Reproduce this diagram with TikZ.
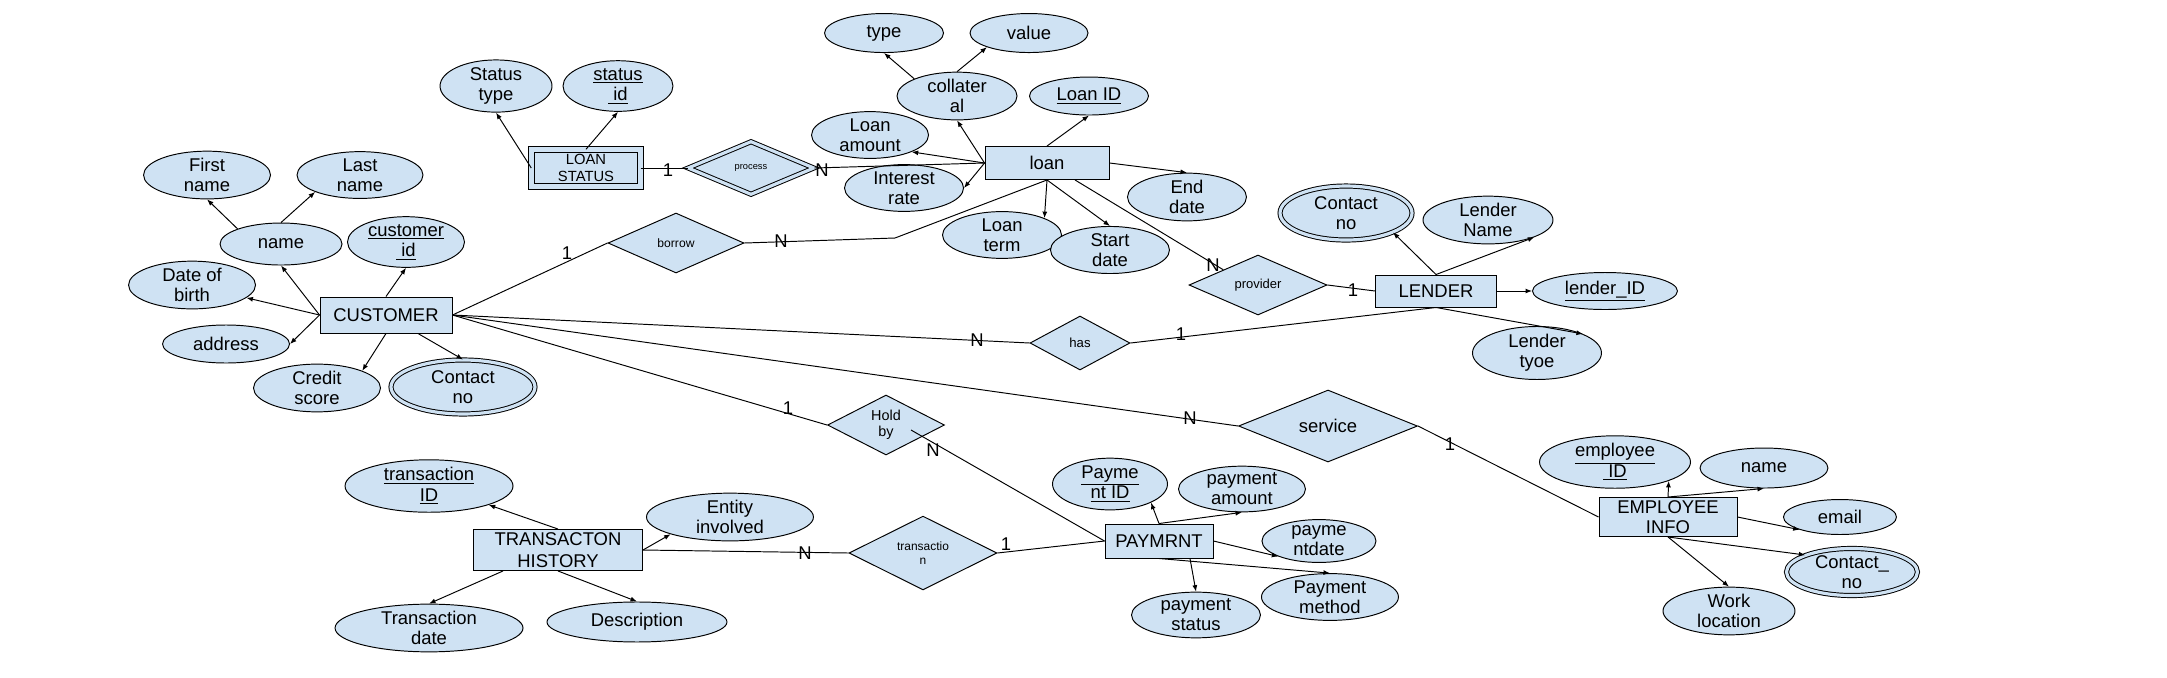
\documentclass[tikz,border=0pt]{standalone}
\usepackage{fontspec}
\setmainfont{Liberation Sans}
\usepackage{tikz}
\usetikzlibrary{positioning,shapes.geometric,arrows.meta}
\definecolor{erfill}{HTML}{CFE2F3}

\begin{document}
\begin{tikzpicture}[
    x=0.02cm, y=-0.02cm, on grid, line width=0.55pt,
    >={Latex[length=1.3mm,width=1mm]},
    entity/.style={rectangle, draw, fill=erfill, inner sep=0pt, align=center, font=\fontsize{10.5}{11.5}\selectfont},
    weakentity/.style={entity, double=erfill, double distance=3pt},
    attr/.style={ellipse, draw, fill=erfill, inner sep=0pt, align=center, font=\fontsize{10.5}{11.5}\selectfont},
    multiattr/.style={attr, double=erfill, double distance=1.8pt},
    rel/.style={diamond, draw, fill=erfill, inner sep=0pt, align=center, font=\fontsize{6.9}{7.9}\selectfont},
    weakrel/.style={rel, double=erfill, double distance=1.8pt},
    card/.style={inner sep=0pt, font=\fontsize{10.5}{11.5}\selectfont}
]
\useasboundingbox (0,0) rectangle (2167,677);

% entities
\node[entity, minimum width=2.64cm, minimum height=0.72cm](customer) at (386,315){CUSTOMER};
\node[weakentity, minimum width=2.17cm, minimum height=0.73cm, font=\fontsize{8.4}{9.8}\selectfont](loanstatus) at (586,168){LOAN\\STATUS};
\node[entity, minimum width=2.48cm, minimum height=0.66cm](loan) at (1047,163){loan};
\node[entity, minimum width=2.42cm, minimum height=0.64cm](lender) at (1436,291){LENDER};
\node[entity, minimum width=3.38cm, minimum height=0.82cm, font=\fontsize{10.5}{12.3}\selectfont](transhist) at (558,550){TRANSACTON\\HISTORY};
\node[entity, minimum width=2.16cm, minimum height=0.68cm](paymrnt) at (1159,541){PAYMRNT};
\node[entity, minimum width=2.76cm, minimum height=0.78cm](empinfo) at (1668,517){EMPLOYEE\\INFO};

% relationships
\node[weakrel, minimum width=2.52cm, minimum height=1.06cm, font=\fontsize{5.3}{6.3}\selectfont](process) at (751,168){process};
\node[rel, minimum width=2.72cm, minimum height=1.20cm](borrow) at (676,243){borrow};
\node[rel, minimum width=2.76cm, minimum height=1.20cm, font=\fontsize{7.4}{8.4}\selectfont](provider) at (1258,285){provider};
\node[rel, minimum width=2.00cm, minimum height=1.08cm, font=\fontsize{7.5}{8.5}\selectfont](has) at (1080,343){has};
\node[rel, minimum width=2.34cm, minimum height=1.20cm, font=\fontsize{8.2}{8.9}\selectfont](holdby) at (886,425){Hold\\by};
\node[rel, minimum width=3.58cm, minimum height=1.44cm, font=\fontsize{10.5}{11.5}\selectfont](service) at (1328,426){service};
\node[rel, minimum width=2.96cm, minimum height=1.18cm, font=\fontsize{6.8}{7.6}\selectfont](transrel) at (923,553){transactio\\n};

% customer attributes
\node[attr, minimum width=2.44cm, minimum height=0.84cm](name)[above left=1.42cm and 2.10cm of customer]{name};
\node[attr, minimum width=2.54cm, minimum height=0.80cm](fname)[above left=1.38cm and 1.48cm of name]{First\\name};
\node[attr, minimum width=2.52cm, minimum height=0.80cm](lname)[above right=1.38cm and 1.58cm of name]{Last\\name};
\node[attr, minimum width=2.34cm, minimum height=0.82cm](custid)[above right=1.46cm and 0.40cm of customer]{\underline{customer}\\\underline{\ id}};
\node[attr, minimum width=2.54cm, minimum height=0.80cm](dob)[above left=0.60cm and 3.88cm of customer]{Date of\\birth};
\node[attr, minimum width=2.54cm, minimum height=0.76cm](address)[below left=0.58cm and 3.20cm of customer]{address};
\node[attr, minimum width=2.54cm, minimum height=0.80cm](credit)[below left=1.46cm and 1.38cm of customer]{Credit\\score};
\node[multiattr, minimum width=2.88cm, minimum height=1.08cm](ccontact)[below right=1.44cm and 1.54cm of customer]{Contact\\no};

% loan status attributes
\node[attr, minimum width=2.24cm, minimum height=0.96cm](stype)[above left=1.64cm and 1.80cm of loanstatus]{Status\\type};
\node[attr, minimum width=2.20cm, minimum height=0.96cm](sid)[above right=1.64cm and 0.64cm of loanstatus]{\underline{status}\\\underline{\ id}};

% loan attributes
\node[attr, minimum width=2.40cm, minimum height=0.76cm](collateral)[above left=1.34cm and 1.80cm of loan]{collater\\al};
\node[attr, minimum width=2.38cm, minimum height=0.78cm](ctype)[above left=1.26cm and 1.46cm of collateral]{type};
\node[attr, minimum width=2.36cm, minimum height=0.78cm](cvalue)[above right=1.26cm and 1.44cm of collateral]{value};
\node[attr, minimum width=2.38cm, minimum height=0.76cm](loanid)[above right=1.34cm and 0.84cm of loan]{\underline{Loan ID}};
\node[attr, minimum width=2.34cm, minimum height=0.74cm](lamount)[above left=0.56cm and 3.54cm of loan]{Loan\\amount};
\node[attr, minimum width=2.38cm, minimum height=0.78cm](irate)[below left=0.50cm and 2.86cm of loan]{Interest\\rate};
\node[attr, minimum width=2.38cm, minimum height=0.76cm](enddate)[below right=0.68cm and 2.80cm of loan]{End\\date};
\node[attr, minimum width=2.38cm, minimum height=0.76cm](lterm)[below left=1.44cm and 0.90cm of loan]{Loan\\term};
\node[attr, minimum width=2.38cm, minimum height=0.74cm](sdate)[below right=1.74cm and 1.26cm of loan]{Start\\date};

% lender attributes
\node[multiattr, minimum width=2.64cm, minimum height=1.08cm](lcontact)[above left=1.56cm and 1.80cm of lender]{Contact\\no};
\node[attr, minimum width=2.60cm, minimum height=0.92cm](lname2)[above right=1.42cm and 1.04cm of lender]{Lender\\Name};
\node[attr, minimum width=2.90cm, minimum height=0.74cm](lenderid)[right=3.38cm of lender]{\underline{lender\_ID}};
\node[attr, minimum width=2.58cm, minimum height=1.06cm](ltype)[below right=1.24cm and 2.02cm of lender]{Lender\\tyoe};

% transaction history attributes
\node[attr, minimum width=3.36cm, minimum height=0.76cm](transid)[above left=1.28cm and 2.58cm of transhist]{\underline{transaction}\\\underline{ID}};
\node[attr, minimum width=3.34cm, minimum height=0.82cm](entity)[above right=0.66cm and 3.44cm of transhist]{Entity\\involved};
\node[attr, minimum width=3.76cm, minimum height=0.86cm](tdate)[below left=1.56cm and 2.58cm of transhist]{Transaction\\date};
\node[attr, minimum width=3.60cm, minimum height=0.80cm](descr)[below right=1.44cm and 1.58cm of transhist]{Description};

% payment attributes
\node[attr, minimum width=2.30cm, minimum height=0.78cm](payid)[above left=1.14cm and 0.98cm of paymrnt]{\underline{Payme}\\\underline{nt ID}};
\node[attr, minimum width=2.54cm, minimum height=0.78cm](payamt)[above right=1.04cm and 1.66cm of paymrnt]{payment\\amount};
\node[attr, minimum width=2.28cm, minimum height=0.80cm](paydate)[right=3.20cm of paymrnt]{payme\\ntdate};
\node[attr, minimum width=2.74cm, minimum height=0.78cm](paymethod)[below right=1.12cm and 3.42cm of paymrnt]{Payment\\method};
\node[attr, minimum width=2.58cm, minimum height=0.80cm](paystatus)[below right=1.48cm and 0.74cm of paymrnt]{payment\\status};

% employee attributes
\node[attr, minimum width=3.02cm, minimum height=0.64cm](empid)[above left=1.10cm and 1.06cm of empinfo]{\underline{employee}\\\underline{\ ID}};
\node[attr, minimum width=2.56cm, minimum height=0.80cm](empname)[above right=0.98cm and 1.92cm of empinfo]{name};
\node[attr, minimum width=2.26cm, minimum height=0.70cm](email)[right=3.44cm of empinfo]{email};
\node[multiattr, minimum width=2.62cm, minimum height=0.88cm](econtact)[below right=1.10cm and 3.68cm of empinfo]{Contact\_\\no};
\node[attr, minimum width=2.64cm, minimum height=0.84cm](workloc)[below right=1.88cm and 1.22cm of empinfo]{Work\\location};

% attribute arrows
\draw[->] (customer.west) -- (name.south);
\draw[->] (customer.west) -- (dob);
\draw[->] (customer.west) -- (address.east);
\draw[->] (customer.north) -- (custid.south);
\draw[->] (customer.south) -- (credit.north east);
\draw[->] (customer) -- (ccontact.north);
\draw[->] (name.north west) -- (fname.south);
\draw[->] (name.north) -- (lname.south west);

\draw[->] (loanstatus.west) -- (stype.south);
\draw[->] (loanstatus.north) -- (sid.south);

\draw[->] (loan.west) -- (collateral.south);
\draw[->] (collateral.north west) -- (ctype.south);
\draw[->] (collateral.north) -- (cvalue.south west);
\draw[->] (loan.north) -- (loanid.south);
\draw[->] (loan.west) -- (lamount.south east);
\draw[->] (loan.west) -- (irate.east);
\draw[->] (loan.east) -- (enddate.north);
\draw[->] (loan.south) -- (lterm.north east);
\draw[->] (loan.south) -- (sdate.north);

\draw[->] (lender.north) -- (lcontact.south east);
\draw[->] (lender.north) -- (lname2.south east);
\draw[->] (lender.east) -- (lenderid.west);
\draw[->] (lender.south) -- (ltype.north east);

\draw[->] (transhist.north) -- (transid.south east);
\draw[->] (transhist.east) -- (entity.south west);
\draw[->] ([xshift=-1.1cm]transhist.south) -- (tdate.north);
\draw[->] (transhist.south) -- (descr.north);

\draw[->] (paymrnt.north) -- (payid.south east);
\draw[->] (paymrnt.north) -- (payamt.south);
\draw[->] (paymrnt.east) -- (paydate.south west);
\draw[->] (paymrnt.south) -- (paymethod.north);
\draw[->] ([xshift=0.62cm]paymrnt.south) -- (paystatus.north);

\draw[->] (empinfo.north) -- (empid.south east);
\draw[->] (empinfo.north) -- (empname.south);
\draw[->] (empinfo.east) -- (email.south west);
\draw[->] (empinfo.south) -- (econtact.north west);
\draw[->] (empinfo.south) -- (workloc.north);

% relationship lines
\coordinate (bend) at (895,238);
\draw (loanstatus.east) -- (process.west);
\draw (process.east) -- (loan.west);
\draw (customer.east) -- (borrow.west);
\draw (borrow.east) -- (bend) -- (loan.south);
\draw (loan) -- (provider.north west);
\draw (provider.east) -- (lender.west);
\draw (customer.east) -- (has.west);
\draw (has.east) -- (lender.south);
\draw (customer.east) -- (service.west);
\draw (service.east) -- (empinfo.west);
\draw (customer.east) -- (holdby.west);
\draw ([xshift=0.5cm,yshift=-0.1cm]holdby.center) -- (paymrnt.west);
\draw (transhist.east) -- (transrel.west);
\draw (transrel.east) -- (paymrnt.west);

% cardinalities
\node[card](cardls) at (668,170){1};
\node[card](cardpl) at (822,170){N};
\node[card](cardbc) at (567,253){1};
\node[card](cardbl) at (781,241){N};
\node[card](cardpv) at (1213,265){N};
\node[card](cardpvl) at (1353,290){1};
\node[card](cardhc) at (977,340){N};
\node[card](cardhl) at (1181,334){1};
\node[card](cardholdc) at (788,408){1};
\node[card](cardholdp) at (933,450){N};
\node[card](cardsc) at (1190,418){N};
\node[card](cardse) at (1450,444){1};
\node[card](cardtt) at (805,553){N};
\node[card](cardtp) at (1006,544){1};
\end{tikzpicture}
\end{document}
